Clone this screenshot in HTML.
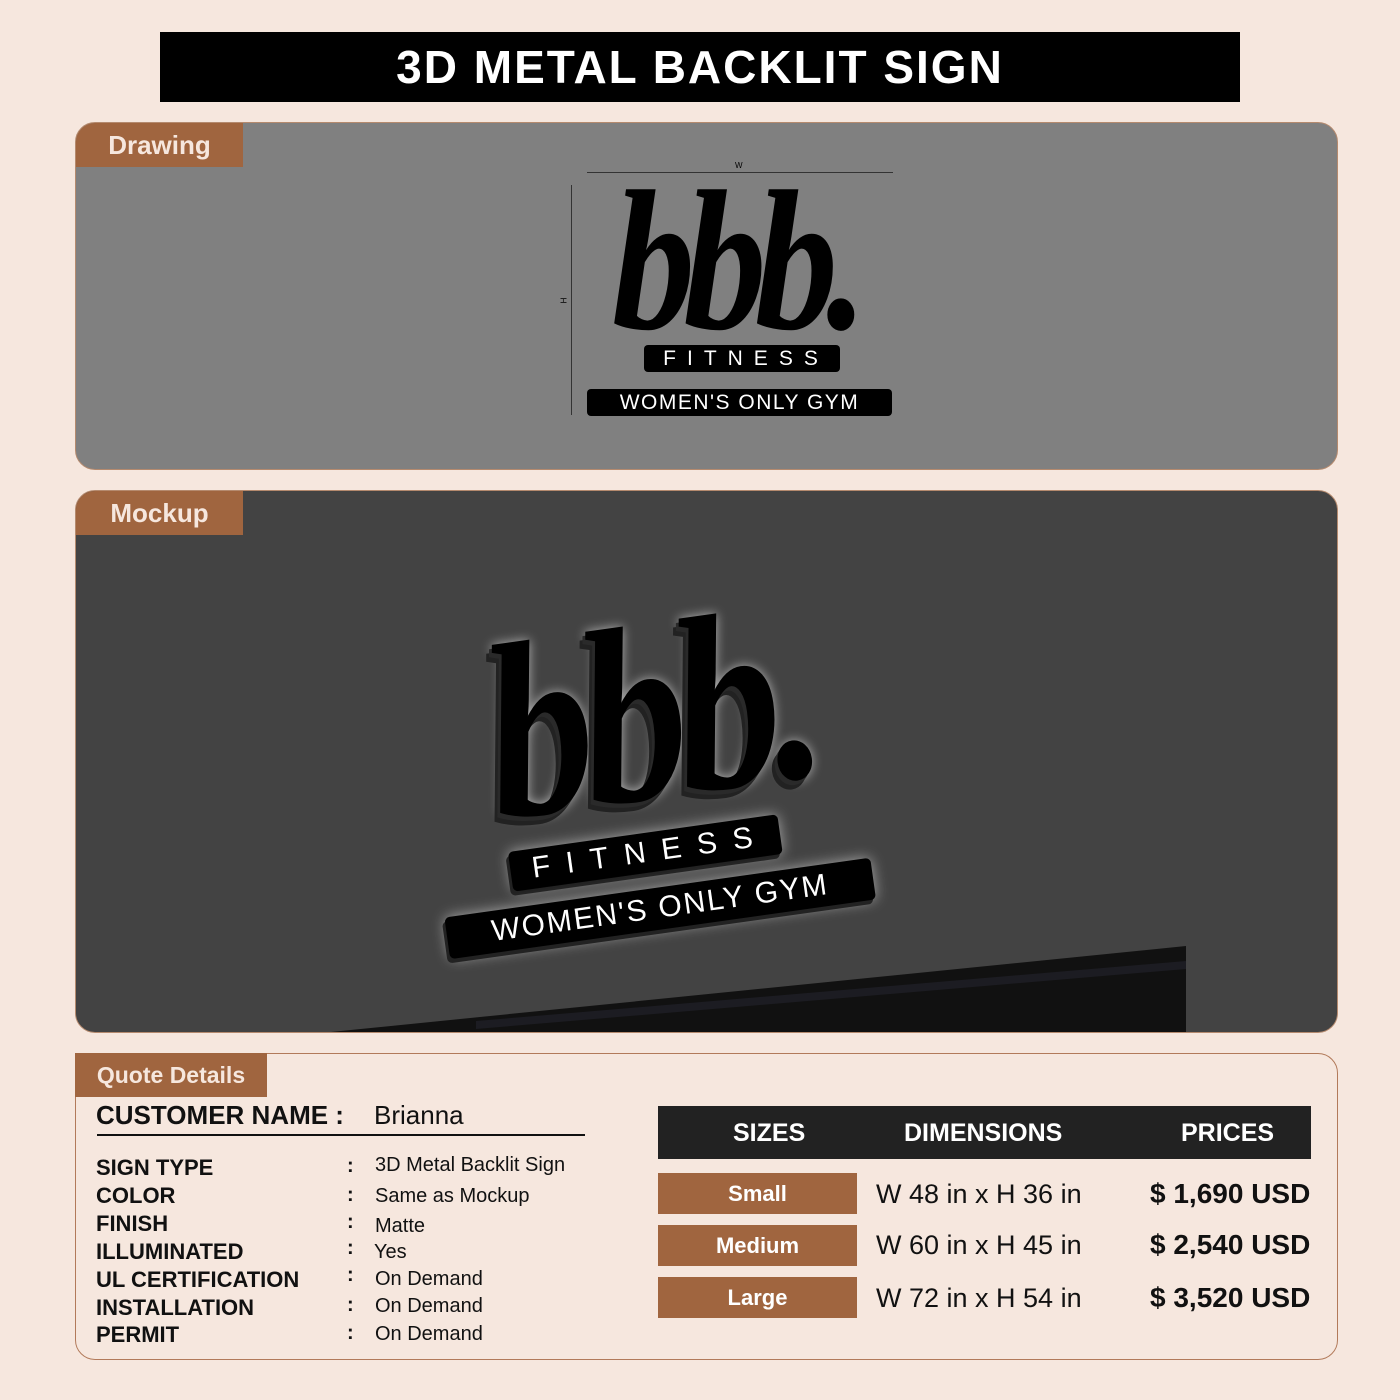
<!DOCTYPE html>
<html><head><meta charset="utf-8"><style>
*{margin:0;padding:0;box-sizing:border-box}
body{width:1400px;height:1400px;background:#f6e7de;position:relative;font-family:"Liberation Sans",sans-serif;overflow:hidden}
.a{position:absolute}
.t{white-space:nowrap}
.tab{position:absolute;background:#a0653f;color:#f6e7de;font-weight:bold;font-size:26px;display:flex;align-items:center;justify-content:center}
.lab{font-weight:bold;font-size:22px;color:#111}
.val{font-size:20px;color:#111}
.col{font-weight:bold;font-size:20px;color:#111}
.sz{position:absolute;left:658px;width:199px;height:41px;background:#a0653f;color:#fff;font-weight:bold;font-size:22px;display:flex;align-items:center;justify-content:center}
.dim{position:absolute;left:876px;font-size:27px;color:#111}
.pr{position:absolute;left:1150px;font-size:28px;font-weight:bold;color:#111}
.logo{font-family:"Liberation Serif",serif;font-style:italic;letter-spacing:-14px}
</style></head><body>
<div class="a" style="left:160px;top:32px;width:1080px;height:70px;background:#000;color:#fff;font-weight:bold;font-size:46px;text-align:center;line-height:70px;letter-spacing:2px">3D METAL BACKLIT SIGN</div>

<div class="a" style="left:75px;top:122px;width:1263px;height:348px;background:#808080;border:1px solid #b58a6e;border-radius:20px;overflow:hidden">
 <div class="tab" style="left:0;top:0;width:167px;height:44px">Drawing</div>
</div>
<div class="a" style="left:587px;top:172px;width:306px;height:1px;background:#333"></div>
<div class="a t" style="left:735px;top:161px;font-size:8px">W</div>
<div class="a" style="left:571px;top:185px;width:1px;height:230px;background:#333"></div>
<div class="a t" style="left:561px;top:296px;font-size:8px;transform:rotate(-90deg)">H</div>
<div class="a t logo" style="left:612px;top:162px;font-size:200px;line-height:200px;font-weight:bold;color:#000;transform:scaleX(0.83);transform-origin:0 0">bbb.</div>
<div class="a t" style="left:644px;top:345px;width:196px;height:27px;background:#000;color:#fff;border-radius:4px;font-size:21px;letter-spacing:11px;text-align:center;line-height:27px;padding-left:8px">FITNESS</div>
<div class="a t" style="left:587px;top:389px;width:305px;height:27px;background:#000;color:#fff;border-radius:4px;font-size:21px;letter-spacing:1.5px;text-align:center;line-height:27px">WOMEN'S ONLY GYM</div>

<div class="a" style="left:75px;top:490px;width:1263px;height:543px;background:#434343;border:1px solid #b58a6e;border-radius:20px;overflow:hidden">
 <svg class="a" style="left:0;top:0" width="1263" height="543"><polygon points="235,543 1110,455 1110,543" fill="#111"/><polygon points="400,530 1110,470 1110,478 400,538" fill="#1c1c22"/></svg>
 <div class="tab" style="left:0;top:0;width:167px;height:44px">Mockup</div>
 <div class="a" style="left:336px;top:110px;transform:rotate(-8deg);transform-origin:0 0">
  <div class="a t logo" style="left:55px;top:20px;font-size:250px;line-height:250px;font-weight:bold;color:#000;transform:scaleX(0.85);transform-origin:0 0;text-shadow:-4px 4px 0 #2a2a2a,-8px 8px 0 #222,0 0 12px rgba(255,255,255,.6)">bbb.</div>
  <div class="a t" style="left:60px;top:262px;width:272px;height:40px;background:#000;color:#fff;border-radius:5px;font-size:30px;letter-spacing:16px;text-align:center;line-height:40px;padding-left:10px;box-shadow:-3px 4px 0 #222,0 0 14px rgba(255,255,255,.55)">FITNESS</div>
  <div class="a t" style="left:-12px;top:318px;width:430px;height:42px;background:#000;color:#fff;border-radius:5px;font-size:30px;letter-spacing:2px;text-align:center;line-height:42px;box-shadow:-3px 4px 0 #222,0 0 14px rgba(255,255,255,.55)">WOMEN'S ONLY GYM</div>
 </div>
</div>

<div class="a" style="left:75px;top:1053px;width:1263px;height:307px;border:1px solid #b27a5a;border-radius:20px"></div>
<div class="tab" style="left:75px;top:1053px;width:192px;height:44px;font-size:23px">Quote Details</div>
<div class="a t" style="left:96px;top:1100px;font-weight:bold;font-size:26px;color:#111">CUSTOMER NAME :</div>
<div class="a t" style="left:374px;top:1100px;font-size:26px;color:#111">Brianna</div>
<div class="a" style="left:97px;top:1134px;width:488px;height:2px;background:#111"></div>

<div class="a t lab" style="left:96px;top:1155px">SIGN TYPE</div>
<div class="a t lab" style="left:96px;top:1183px">COLOR</div>
<div class="a t lab" style="left:96px;top:1211px">FINISH</div>
<div class="a t lab" style="left:96px;top:1239px">ILLUMINATED</div>
<div class="a t lab" style="left:96px;top:1267px">UL CERTIFICATION</div>
<div class="a t lab" style="left:96px;top:1295px">INSTALLATION</div>
<div class="a t lab" style="left:96px;top:1322px">PERMIT</div>
<div class="a t col" style="left:347px;top:1155px">:</div>
<div class="a t col" style="left:347px;top:1184px">:</div>
<div class="a t col" style="left:347px;top:1211px">:</div>
<div class="a t col" style="left:347px;top:1237px">:</div>
<div class="a t col" style="left:347px;top:1264px">:</div>
<div class="a t col" style="left:347px;top:1294px">:</div>
<div class="a t col" style="left:347px;top:1322px">:</div>
<div class="a t val" style="left:375px;top:1154px">3D Metal Backlit Sign</div>
<div class="a t val" style="left:375px;top:1185px">Same as Mockup</div>
<div class="a t val" style="left:375px;top:1215px">Matte</div>
<div class="a t val" style="left:374px;top:1241px">Yes</div>
<div class="a t val" style="left:375px;top:1268px">On Demand</div>
<div class="a t val" style="left:375px;top:1295px">On Demand</div>
<div class="a t val" style="left:375px;top:1323px">On Demand</div>

<div class="a" style="left:658px;top:1106px;width:653px;height:53px;background:#222;color:#fff;font-weight:bold;font-size:25px">
 <span class="a t" style="left:75px;top:13px">SIZES</span>
 <span class="a t" style="left:246px;top:13px">DIMENSIONS</span>
 <span class="a t" style="left:523px;top:13px">PRICES</span>
</div>
<div class="sz" style="top:1173px">Small</div>
<div class="sz" style="top:1225px">Medium</div>
<div class="sz" style="top:1277px">Large</div>
<div class="dim t" style="top:1179px">W 48 in x H 36 in</div>
<div class="dim t" style="top:1230px">W 60 in x H 45 in</div>
<div class="dim t" style="top:1283px">W 72 in x H 54 in</div>
<div class="pr t" style="top:1178px">$ 1,690 USD</div>
<div class="pr t" style="top:1229px">$ 2,540 USD</div>
<div class="pr t" style="top:1282px">$ 3,520 USD</div>
</body></html>
